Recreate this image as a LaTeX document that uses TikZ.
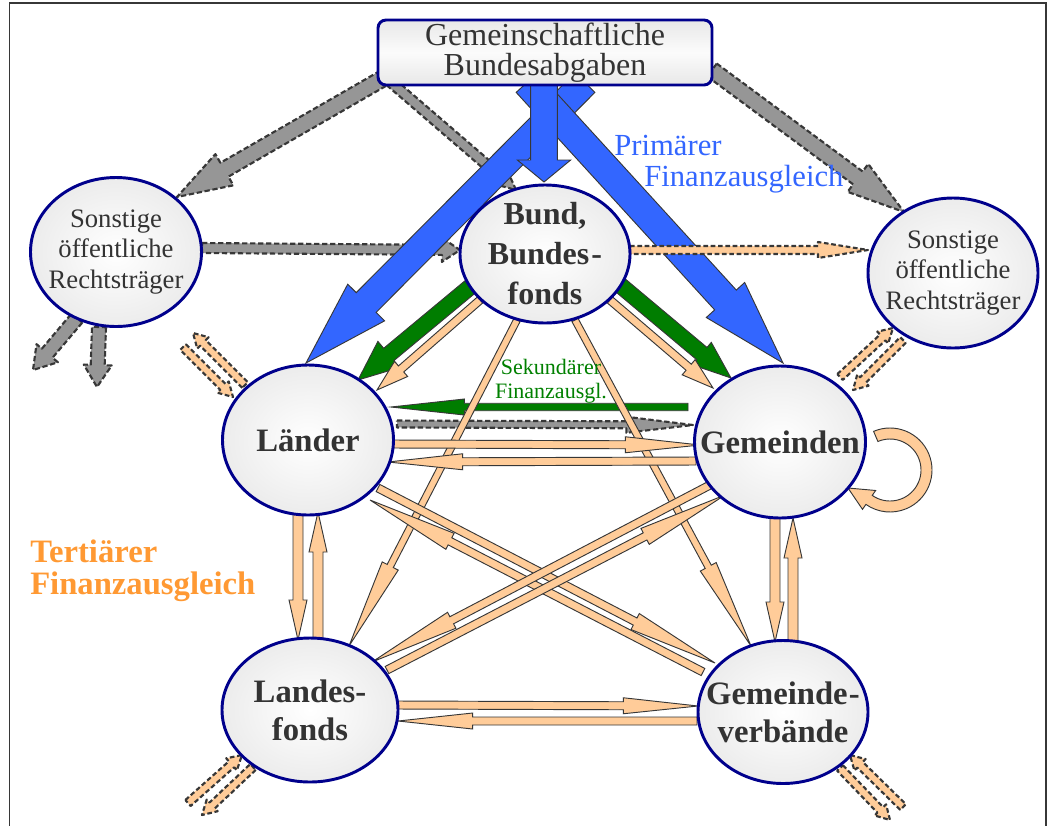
\documentclass[tikz,border=0pt]{standalone}
\usepackage{fontspec}
\setmainfont{Liberation Serif}
\usetikzlibrary{calc,shapes.geometric}
\pgfdeclarelayer{background}
\pgfsetlayers{background,main}
\definecolor{navyb}{RGB}{0,0,140}
\definecolor{darkline}{RGB}{55,55,55}
\definecolor{bluef}{RGB}{51,102,255}
\definecolor{greenf}{RGB}{0,125,0}
\definecolor{peach}{RGB}{255,204,153}
\definecolor{grayf}{RGB}{150,150,150}
\definecolor{txt}{RGB}{51,51,51}
\definecolor{orangetxt}{RGB}{255,153,51}
\definecolor{greentxt}{RGB}{0,128,0}
% block arrow: style, from, to, shaft half width, head half width, head length
\newcommand\blockarr[6]{%
  \coordinate (ba-s) at ($#2$);
  \coordinate (ba-e) at ($#3$);
  \coordinate (ba-h) at ($(ba-e)!#6!(ba-s)$);
  \filldraw[#1] ($(ba-s)!#4!90:(ba-e)$) -- ($(ba-h)!#4!-90:(ba-s)$) -- ($(ba-h)!#5!-90:(ba-s)$) -- (ba-e) -- ($(ba-h)!#5!90:(ba-s)$) -- ($(ba-h)!#4!90:(ba-s)$) -- ($(ba-s)!#4!-90:(ba-e)$) -- cycle;
}
\begin{document}
\begin{tikzpicture}[x=0.75pt,y=-0.75pt,
  ent/.style={ellipse, draw=navyb, line width=2.2pt, inner sep=-30pt, inner color=white, outer color=gray!15, text=txt, align=center},
  bigtxt/.style={font=\bfseries\fontsize{24.5pt}{28.5pt}\selectfont},
  bundtxt/.style={font=\bfseries\fontsize{24pt}{30pt}\selectfont},
  smalltxt/.style={font=\fontsize{20pt}{23pt}\selectfont},
  topbox/.style={rectangle, rounded corners=6pt, draw=navyb, line width=2.2pt, inner sep=0pt, top color=gray!18, bottom color=gray!18, middle color=gray!3, text=txt, align=center, font=\fontsize{24pt}{22.5pt}\selectfont},
  grayarr/.style={fill=grayf, draw=darkline, line width=1.6pt, dash pattern=on 4pt off 2pt, line join=round},
  peachdash/.style={fill=peach, draw=darkline, line width=1.6pt, dash pattern=on 3.5pt off 2pt, line join=round},
  bluearr/.style={fill=bluef, draw=darkline, line width=0.7pt},
  greenarr/.style={fill=greenf, draw=darkline, line width=0.7pt},
  peacharr/.style={fill=peach, draw=darkline, line width=0.7pt}
]
\useasboundingbox (0,0) rectangle (1052,825);
% frame
\draw[darkline, line width=1pt] (9.5,840) -- (9.5,3) -- (1046,3) -- (1046,840);

% nodes
\node[topbox, minimum width=250.5pt, minimum height=48.75pt] (top) at (545,52.5) {Gemeinschaftliche\\Bundesabgaben};
\node[ent, bundtxt, minimum width=127.5pt, minimum height=103.5pt] (bund) at (545,254) {Bund,\\Bundes\kern1.5pt-\\fonds};
\node[ent, smalltxt, minimum width=128.25pt, minimum height=111.75pt] (sonl) at (116,252) {Sonstige\\öffentliche\\Rechtsträger};
\node[ent, smalltxt, minimum width=127.5pt, minimum height=112.5pt] (sonr) at (953,273) {Sonstige\\öffentliche\\Rechtsträger};
\node[ent, bigtxt, minimum width=128.25pt, minimum height=112.5pt] (laender) at (308,440) {Länder};
\node[ent, bigtxt, minimum width=128.25pt, minimum height=114pt] (gemeinden) at (780,442) {Gemeinden};
\node[ent, bigtxt, minimum width=132pt, minimum height=108pt] (lfonds) at (310,710) {Landes-\\fonds};
\node[ent, bigtxt, minimum width=127.5pt, minimum height=107.25pt] (gverb) at (783,712) {Gemeinde\kern1pt-\\verbände};

% free ends
\coordinate (sl1) at (33,370);
\coordinate (sl2) at (97,387);
\coordinate (la1) at (193,333);
\coordinate (la2) at (183,347);
\coordinate (lf1) at (188,803);
\coordinate (lf2) at (202,815);
\coordinate (gv1) at (903,807);
\coordinate (gv2) at (890,820);
\coordinate (loopc) at (890,470);
\coordinate (looptip) at (848,488);

% labels
\node[anchor=base west, inner sep=0pt, text=bluef, font=\fontsize{23pt}{23pt}\selectfont] (prim1) at (614,155) {Primärer};
\node[anchor=base west, inner sep=0pt, text=bluef, font=\fontsize{23pt}{23pt}\selectfont] (prim2) at (644,186) {Finanzausgleich};
\node[anchor=base, inner sep=0pt, text=greentxt, font=\fontsize{16.5pt}{16.5pt}\selectfont] (sek1) at (551,374) {Sekundärer};
\node[anchor=base, inner sep=0pt, text=greentxt, font=\fontsize{16.5pt}{16.5pt}\selectfont] (sek2) at (551,398) {Finanzausgl.};
\node[anchor=base west, inner sep=0pt, text=orangetxt, font=\bfseries\fontsize{24.5pt}{24.5pt}\selectfont] (ter1) at (30,562) {Tertiärer};
\node[anchor=base west, inner sep=0pt, text=orangetxt, font=\bfseries\fontsize{24.5pt}{24.5pt}\selectfont] (ter2) at (30,594) {Finanzausgleich};

\begin{pgfonlayer}{background}
% gray dashed arrows
\blockarr{grayarr}{(top)+(-163,26.5)}{(sonl)+(61,-55)}{6pt}{13.5pt}{41pt}
\blockarr{grayarr}{(top)+(-159,25.5)}{(bund)+(-29,-64)}{3.75pt}{9pt}{19pt}
\blockarr{grayarr}{(top)+(167,17.5)}{(sonr)+(-49,-61)}{6pt}{13pt}{43pt}
\blockarr{grayarr}{(sonl)+(86,-4)}{(bund)+(-85,-4)}{3.75pt}{9pt}{13.5pt}
\blockarr{grayarr}{(sonl)+(-39,66)}{(sl1)}{5.25pt}{10.5pt}{16.5pt}
\blockarr{grayarr}{(sonl)+(-17,75)}{(sl2)}{5.25pt}{10.5pt}{16.5pt}
\blockarr{grayarr}{(laender)+(89,-16)}{(gemeinden)+(-87,-17)}{2.6pt}{6pt}{50pt}
% blue arrows
\blockarr{bluearr}{(top)+(40,30)}{(laender)+(-2,-77)}{10.5pt}{19.5pt}{64pt}
\blockarr{bluearr}{(top)+(-18,30)}{(gemeinden)+(3,-79)}{11pt}{19.5pt}{64pt}
\blockarr{bluearr}{(top)+(-1,30)}{(bund)+(-1,-72)}{10pt}{20pt}{16.5pt}
% peach dashed Bund -> Sonstige
\blockarr{peachdash}{(bund)+(85,-4)}{(sonr)+(-85,-23)}{3pt}{6pt}{37.5pt}
% green arrows
\blockarr{greenarr}{(bund)+(-75,33)}{(laender)+(50,-60)}{6pt}{12.75pt}{30pt}
\blockarr{greenarr}{(bund)+(75,31)}{(gemeinden)+(-49,-64)}{6pt}{11pt}{28.5pt}
\blockarr{greenarr}{(gemeinden)+(-92,-35)}{(laender)+(83,-33)}{2.8pt}{6pt}{55pt}
% peach arrows
\blockarr{peacharr}{(bund)+(-65,46)}{(laender)+(69,-50)}{3pt}{7.5pt}{24pt}
\blockarr{peacharr}{(bund)+(65,46)}{(gemeinden)+(-67,-54)}{3pt}{7.5pt}{24pt}
\blockarr{peacharr}{(bund)+(-28,66)}{(lfonds)+(39,-64)}{2.6pt}{6.75pt}{67.5pt}
\blockarr{peacharr}{(bund)+(30,66)}{(gverb)+(-32,-66)}{2.6pt}{6.75pt}{67.5pt}
\blockarr{peacharr}{(laender)+(84,4)}{(gemeinden)+(-80,3)}{3pt}{6pt}{56pt}
\blockarr{peacharr}{(gemeinden)+(-84,19)}{(laender)+(80,22)}{3pt}{6pt}{56pt}
\blockarr{peacharr}{(laender)+(-10,72)}{(lfonds)+(-12,-70)}{3.75pt}{6.75pt}{30pt}
\blockarr{peacharr}{(lfonds)+(8,-70)}{(laender)+(10,72)}{3.75pt}{6.75pt}{30pt}
\blockarr{peacharr}{(gemeinden)+(-5,76)}{(gverb)+(-8,-70)}{3.75pt}{6.75pt}{30pt}
\blockarr{peacharr}{(gverb)+(10,-70)}{(gemeinden)+(13,76)}{3.75pt}{6.75pt}{30pt}
\blockarr{peacharr}{(lfonds)+(87,-5)}{(gverb)+(-85,-6)}{3pt}{6pt}{56pt}
\blockarr{peacharr}{(gverb)+(-86,9)}{(lfonds)+(88,11)}{3pt}{6pt}{56pt}
\blockarr{peacharr}{(laender)+(70,48)}{(gverb)+(-68,-49)}{3pt}{6.75pt}{67.5pt}
\blockarr{peacharr}{(gverb)+(-80,-40)}{(laender)+(62,60)}{3pt}{6.75pt}{67.5pt}
\blockarr{peacharr}{(gemeinden)+(-70,43)}{(lfonds)+(62,-48)}{3pt}{6.75pt}{67.5pt}
\blockarr{peacharr}{(lfonds)+(77,-40)}{(gemeinden)+(-55,53)}{3pt}{6.75pt}{67.5pt}
% loop at Gemeinden
\filldraw[peacharr] ($(loopc)+(-113:42)$) arc[start angle=-113, end angle=125, radius=42] -- ($(loopc)+(125:48)$) -- (looptip) -- ($(loopc)+(125:25)$) -- ($(loopc)+(125:31)$) arc[start angle=125, end angle=-113, radius=31] -- cycle;
% peach dashed pairs
\blockarr{peachdash}{(laender)+(-63,-55)}{(la1)}{3pt}{6pt}{10.5pt}
\blockarr{peachdash}{(la2)}{(laender)+(-75,-43)}{3pt}{6pt}{10.5pt}
\blockarr{peachdash}{(gemeinden)+(60,-65)}{(sonr)+(-60,55)}{3pt}{6pt}{10.5pt}
\blockarr{peachdash}{(sonr)+(-50,67)}{(gemeinden)+(73,-52)}{3pt}{6pt}{10.5pt}
\blockarr{peachdash}{(lf1)}{(lfonds)+(-68,45)}{3pt}{6pt}{10.5pt}
\blockarr{peachdash}{(lfonds)+(-57,57)}{(lf2)}{3pt}{6pt}{10.5pt}
\blockarr{peachdash}{(gv1)}{(gverb)+(67,43)}{3pt}{6pt}{10.5pt}
\blockarr{peachdash}{(gverb)+(57,56)}{(gv2)}{3pt}{6pt}{10.5pt}
\end{pgfonlayer}
\end{tikzpicture}
\end{document}
